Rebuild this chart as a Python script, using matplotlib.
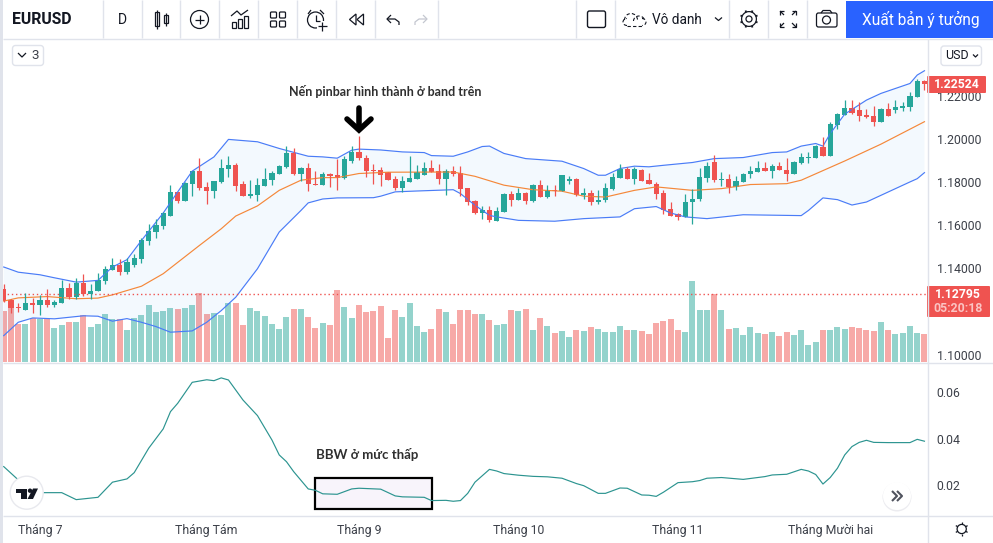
import numpy as np
import matplotlib
matplotlib.use("Agg")
import matplotlib.pyplot as plt
from matplotlib.patches import Rectangle, Circle, FancyBboxPatch, Polygon, Arc

# candles, one row of ten per line
opens = [1.1305, 1.1253, 1.1220, 1.1209, 1.1241, 1.1228, 1.1251, 1.1232, 1.1238, 1.1311,
         1.1269, 1.1330, 1.1279, 1.1297, 1.1339, 1.1393, 1.1413, 1.1381, 1.1413, 1.1441,
         1.1525, 1.1566, 1.1594, 1.1641, 1.1752, 1.1710, 1.1789, 1.1850, 1.1775, 1.1757,
         1.1798, 1.1859, 1.1877, 1.1789, 1.1734, 1.1738, 1.1780, 1.1808, 1.1836, 1.1868,
         1.1933, 1.1836, 1.1863, 1.1789, 1.1785, 1.1836, 1.1831, 1.1819, 1.1896, 1.1938,
         1.1913, 1.1854, 1.1854, 1.1845, 1.1812, 1.1771, 1.1798, 1.1812, 1.1831, 1.1864,
         1.1850, 1.1812, 1.1850, 1.1840, 1.1771, 1.1710, 1.1655, 1.1669, 1.1618, 1.1659,
         1.1743, 1.1715, 1.1747, 1.1710, 1.1785, 1.1729, 1.1761, 1.1757, 1.1805, 1.1812,
         1.1740, 1.1747, 1.1706, 1.1715, 1.1766, 1.1817, 1.1859, 1.1812, 1.1854, 1.1808,
         1.1792, 1.1747, 1.1673, 1.1650, 1.1636, 1.1707, 1.1720, 1.1817, 1.1891, 1.1808,
         1.1812, 1.1775, 1.1798, 1.1836, 1.1845, 1.1863, 1.1850, 1.1873, 1.1854, 1.1836,
         1.1887, 1.1911, 1.1910, 1.1961, 1.1919, 1.2063, 1.2109, 1.2142, 1.2133, 1.2109,
         1.2105, 1.2077, 1.2137, 1.2133, 1.2142, 1.2147, 1.2193, 1.2267]
closes = [1.1249, 1.1215, 1.1215, 1.1241, 1.1228, 1.1251, 1.1232, 1.1243, 1.1311, 1.1269,
          1.1330, 1.1279, 1.1297, 1.1344, 1.1399, 1.1413, 1.1381, 1.1427, 1.1446, 1.1529,
          1.1571, 1.1599, 1.1655, 1.1752, 1.1710, 1.1794, 1.1850, 1.1771, 1.1757, 1.1803,
          1.1863, 1.1877, 1.1780, 1.1734, 1.1743, 1.1785, 1.1812, 1.1840, 1.1873, 1.1933,
          1.1836, 1.1863, 1.1789, 1.1786, 1.1836, 1.1826, 1.1819, 1.1905, 1.1938, 1.1910,
          1.1850, 1.1850, 1.1831, 1.1808, 1.1771, 1.1803, 1.1817, 1.1845, 1.1864, 1.1845,
          1.1812, 1.1850, 1.1836, 1.1766, 1.1706, 1.1655, 1.1669, 1.1622, 1.1664, 1.1743,
          1.1715, 1.1747, 1.1710, 1.1785, 1.1729, 1.1761, 1.1758, 1.1831, 1.1812, 1.1738,
          1.1747, 1.1706, 1.1715, 1.1771, 1.1822, 1.1859, 1.1812, 1.1859, 1.1805, 1.1791,
          1.1743, 1.1668, 1.1642, 1.1638, 1.1709, 1.1723, 1.1822, 1.1873, 1.1808, 1.1812,
          1.1775, 1.1803, 1.1836, 1.1850, 1.1863, 1.1851, 1.1873, 1.1854, 1.1836, 1.1891,
          1.1914, 1.1914, 1.1966, 1.1919, 1.2068, 1.2114, 1.2142, 1.2119, 1.2105, 1.2099,
          1.2077, 1.2137, 1.2105, 1.2147, 1.2151, 1.2198, 1.2267, 1.2252]
highs = [1.1325, 1.1258, 1.1241, 1.1286, 1.1262, 1.1277, 1.1302, 1.1251, 1.1344, 1.1334,
         1.1353, 1.1372, 1.1325, 1.1376, 1.1409, 1.1450, 1.1441, 1.1446, 1.1467, 1.1539,
         1.1604, 1.1627, 1.1659, 1.1785, 1.1752, 1.1798, 1.1850, 1.1910, 1.1798, 1.1803,
         1.1905, 1.1919, 1.1887, 1.1803, 1.1808, 1.1817, 1.1863, 1.1850, 1.1877, 1.1966,
         1.1956, 1.1868, 1.1887, 1.1850, 1.1845, 1.1840, 1.1905, 1.1919, 1.1966, 1.2012,
         1.1927, 1.1882, 1.1867, 1.1845, 1.1826, 1.1826, 1.1919, 1.1877, 1.1891, 1.1901,
         1.1882, 1.1862, 1.1873, 1.1873, 1.1771, 1.1715, 1.1687, 1.1687, 1.1682, 1.1747,
         1.1757, 1.1771, 1.1752, 1.1789, 1.1808, 1.1785, 1.1785, 1.1831, 1.1826, 1.1817,
         1.1771, 1.1761, 1.1761, 1.1794, 1.1840, 1.1882, 1.1868, 1.1868, 1.1862, 1.1842,
         1.1798, 1.1761, 1.1706, 1.1655, 1.1743, 1.1769, 1.1863, 1.1891, 1.1924, 1.1845,
         1.1836, 1.1826, 1.1840, 1.1873, 1.1896, 1.1891, 1.1882, 1.1891, 1.1910, 1.1896,
         1.1933, 1.1938, 1.1970, 1.2007, 1.2077, 1.2119, 1.2179, 1.2179, 1.2170, 1.2137,
         1.2151, 1.2142, 1.2165, 1.2179, 1.2170, 1.2216, 1.2277, 1.2272]
lows = [1.1243, 1.1192, 1.1197, 1.1209, 1.1192, 1.1186, 1.1223, 1.1220, 1.1238, 1.1260,
        1.1260, 1.1274, 1.1257, 1.1297, 1.1327, 1.1390, 1.1367, 1.1372, 1.1406, 1.1424,
        1.1506, 1.1542, 1.1582, 1.1641, 1.1701, 1.1710, 1.1734, 1.1761, 1.1696, 1.1724,
        1.1794, 1.1822, 1.1757, 1.1734, 1.1724, 1.1710, 1.1780, 1.1785, 1.1836, 1.1863,
        1.1831, 1.1803, 1.1757, 1.1785, 1.1785, 1.1777, 1.1764, 1.1812, 1.1888, 1.1901,
        1.1822, 1.1789, 1.1780, 1.1808, 1.1764, 1.1755, 1.1798, 1.1812, 1.1831, 1.1845,
        1.1789, 1.1738, 1.1826, 1.1734, 1.1692, 1.1650, 1.1627, 1.1613, 1.1618, 1.1659,
        1.1687, 1.1715, 1.1696, 1.1706, 1.1729, 1.1724, 1.1734, 1.1757, 1.1789, 1.1734,
        1.1720, 1.1692, 1.1696, 1.1706, 1.1761, 1.1817, 1.1812, 1.1789, 1.1805, 1.1791,
        1.1720, 1.1650, 1.1642, 1.1622, 1.1636, 1.1604, 1.1710, 1.1798, 1.1798, 1.1780,
        1.1747, 1.1761, 1.1798, 1.1817, 1.1845, 1.1851, 1.1817, 1.1854, 1.1803, 1.1836,
        1.1882, 1.1887, 1.1910, 1.1919, 1.1919, 1.2044, 1.2109, 1.2114, 1.2082, 1.2095,
        1.2058, 1.2077, 1.2105, 1.2119, 1.2128, 1.2128, 1.2193, 1.2225]
volumes = [153, 163, 115, 113, 133, 128, 128, 101, 110, 119,
           119, 140, 104, 113, 143, 128, 128, 95, 131, 140,
           170, 149, 152, 161, 158, 161, 170, 206, 143, 146,
           140, 176, 176, 110, 161, 152, 137, 113, 98, 134,
           158, 158, 134, 101, 118, 112, 217, 166, 133, 172,
           151, 154, 169, 73, 157, 136, 178, 109, 91, 100,
           160, 151, 115, 157, 157, 145, 145, 127, 112, 115,
           157, 154, 160, 97, 133, 109, 88, 94, 76, 97,
           94, 106, 100, 91, 91, 109, 97, 97, 92, 83,
           116, 122, 128, 95, 89, 242, 155, 155, 203, 155,
           98, 101, 80, 104, 86, 83, 89, 77, 89, 80,
           95, 50, 59, 95, 95, 104, 98, 104, 101, 95,
           92, 119, 95, 83, 86, 107, 86, 83]

# bollinger bands, read at the bars where the line bends
upper_i = [0, 2, 5, 7, 10, 13, 15, 17, 19, 22, 24, 26, 29, 31, 35, 38, 42, 44, 46, 48, 49, 52, 55, 58, 59, 62,
           64, 66, 67, 69, 72, 77, 80, 82, 83, 85, 87, 89, 91, 95, 98, 102, 106, 108, 110, 112, 113, 114, 116,
           119, 121, 125, 126, 127]
upper = [1.1406, 1.1382, 1.1370, 1.1356, 1.1336, 1.1344, 1.1406, 1.1440, 1.1529, 1.1656, 1.1754, 1.1850, 1.1916,
         1.1997, 1.1986, 1.1955, 1.1919, 1.1916, 1.1910, 1.1947, 1.1952, 1.1948, 1.1939, 1.1936, 1.1922, 1.1919,
         1.1939, 1.1964, 1.1966, 1.1932, 1.1908, 1.1896, 1.1862, 1.1831, 1.1831, 1.1862, 1.1873, 1.1870, 1.1877,
         1.1890, 1.1908, 1.1913, 1.1936, 1.1939, 1.1966, 1.1978, 1.1966, 1.2024, 1.2114, 1.2179, 1.2210, 1.2256,
         1.2295, 1.2315]
lower_i = [0, 2, 4, 7, 11, 13, 15, 17, 19, 21, 23, 26, 28, 30, 32, 35, 38, 41, 42, 44, 46, 51, 52, 54, 57, 62,
           63, 65, 67, 68, 71, 76, 80, 85, 87, 90, 92, 94, 97, 102, 110, 111, 113, 115, 117, 119, 121, 125, 126,
           127]
lower = [1.1088, 1.1150, 1.1170, 1.1166, 1.1180, 1.1178, 1.1155, 1.1167, 1.1150, 1.1130, 1.1104, 1.1110, 1.1150,
         1.1204, 1.1266, 1.1398, 1.1568, 1.1668, 1.1703, 1.1721, 1.1726, 1.1727, 1.1734, 1.1754, 1.1758, 1.1764,
         1.1746, 1.1692, 1.1645, 1.1638, 1.1622, 1.1618, 1.1630, 1.1638, 1.1676, 1.1686, 1.1656, 1.1638, 1.1630,
         1.1648, 1.1644, 1.1668, 1.1726, 1.1718, 1.1693, 1.1707, 1.1738, 1.1800, 1.1815, 1.1843]
basis_i = [0, 2, 6, 10, 13, 15, 19, 22, 27, 30, 32, 35, 38, 41, 44, 46, 49, 53, 62, 65, 69, 73, 77, 80, 83, 87, 90,
           95, 99, 103, 108, 110, 116, 121, 127]
basis = [1.1248, 1.1263, 1.1269, 1.1259, 1.1262, 1.1277, 1.1317, 1.1375, 1.1506, 1.1583, 1.1642, 1.1689, 1.1761,
         1.1808, 1.1820, 1.1820, 1.1839, 1.1845, 1.1846, 1.1826, 1.1785, 1.1764, 1.1757, 1.1734, 1.1730, 1.1761,
         1.1777, 1.1761, 1.1769, 1.1788, 1.1792, 1.1808, 1.1897, 1.1975, 1.2079]

# bollinger band width pane
bbw_i = [0, 2, 5, 8, 10, 13, 15, 17, 18, 20, 22, 23, 24, 26, 28, 29, 30, 31, 33, 35, 37, 38, 39, 40, 42, 43, 44, 46,
         48, 49, 52, 54, 55, 58, 59, 61, 62, 63, 64, 65, 67, 68, 69, 71, 73, 75, 77, 79, 80, 82, 83, 85, 86, 88, 89,
         90, 91, 93, 95, 96, 97, 99, 102, 105, 106, 108, 110, 111, 112, 113, 114, 115, 116, 117, 118, 119, 120, 122,
         125, 126, 127]
bbw = [0.0281, 0.0224, 0.0169, 0.0169, 0.0139, 0.0149, 0.0214, 0.0228, 0.0255, 0.0360, 0.0443, 0.0517, 0.0553, 0.0643,
       0.0654, 0.0650, 0.0662, 0.0653, 0.0567, 0.0500, 0.0395, 0.0331, 0.0302, 0.0259, 0.0185, 0.0179, 0.0164, 0.0162,
       0.0185, 0.0188, 0.0184, 0.0155, 0.0151, 0.0149, 0.0135, 0.0136, 0.0132, 0.0135, 0.0166, 0.0214, 0.0269, 0.0262,
       0.0251, 0.0244, 0.0239, 0.0237, 0.0231, 0.0208, 0.0199, 0.0166, 0.0166, 0.0189, 0.0188, 0.0159, 0.0158, 0.0153,
       0.0171, 0.0212, 0.0216, 0.0221, 0.0231, 0.0234, 0.0226, 0.0238, 0.0245, 0.0248, 0.0269, 0.0262, 0.0247, 0.0206,
       0.0234, 0.0274, 0.0331, 0.0367, 0.0385, 0.0394, 0.0385, 0.0384, 0.0384, 0.0398, 0.0390]

price_ticks = [1.10, 1.14, 1.16, 1.18, 1.20, 1.22]
bbw_ticks = [0.02, 0.04, 0.06]
month_pos = [5, 28, 49, 71, 93, 114]
month_labels = ["Tháng 7", "Tháng Tám", "Tháng 9", "Tháng 10", "Tháng 11", "Tháng Mười hai"]
last_price = 1.22524
line_price = 1.12795

GREEN = "#26a69a"
RED = "#ef5350"
VOL_GREEN = "#94d3cc"
VOL_RED = "#f7a9a7"
BLUE = "#4a7cf7"
ORANGE = "#f5883a"
TEAL = "#2c9490"
GRID = "#e0e3eb"
TEXT = "#131722"
AXIS_TEXT = "#3c4049"
UI_FONT = ["Roboto", "DejaVu Sans"]
NARROW = ["Lato", "Roboto", "DejaVu Sans"]

plt.rcParams["font.family"] = UI_FONT

W, H = 993, 543
fig = plt.figure(figsize=(W / 100, H / 100), dpi=100, facecolor="white")


def px_axes(left, top, right, bottom):
    return fig.add_axes([left / W, 1 - bottom / H, (right - left) / W, (bottom - top) / H])


x = np.arange(len(opens))
opens = np.array(opens)
closes = np.array(closes)
up = closes >= opens
xlim = (-0.1, 127.35)

# volume sits behind the price axes, both in the same box
vol = px_axes(3, 39, 927, 362)
vol.bar(x, volumes, width=0.83, color=[VOL_GREEN if u else VOL_RED for u in up], linewidth=0)
vol.set_xlim(xlim)
vol.set_ylim(0, 967)
vol.axis("off")

ax = px_axes(3, 39, 927, 362)
ax.patch.set_visible(False)
ax.set_xlim(xlim)
ax.set_ylim(1.0966, 1.2462)
ax.fill(np.r_[upper_i, lower_i[::-1]], np.r_[upper, lower[::-1]], color="#2196f3", alpha=0.05, linewidth=0)
ax.plot(upper_i, upper, color=BLUE, lw=0.85)
ax.plot(lower_i, lower, color=BLUE, lw=0.85)
ax.plot(basis_i, basis, color=ORANGE, lw=0.85)
ax.axhline(line_price, color=RED, lw=1.0, ls=(0, (1, 2)))
colors = [GREEN if u else RED for u in up]
ax.vlines(x, lows, highs, colors=colors, lw=0.9)
ax.bar(x, np.abs(closes - opens), bottom=np.minimum(opens, closes), width=0.72, color=colors, linewidth=0)

ax.yaxis.tick_right()
ax.set_yticks(price_ticks)
ax.set_yticklabels([f"{p:.5f}" for p in price_ticks], fontsize=8.8, color=AXIS_TEXT)
ax.tick_params(axis="y", length=0, pad=7)
ax.set_xticks([])
for s in ax.spines.values():
    s.set_visible(False)

low_ax = px_axes(3, 363, 927, 515)
low_ax.set_xlim(xlim)
low_ax.set_ylim(0.0073, 0.0726)
low_ax.plot(bbw_i, bbw, color=TEAL, lw=0.85, zorder=3)
low_ax.yaxis.tick_right()
low_ax.set_yticks(bbw_ticks)
low_ax.set_yticklabels([f"{v:.2f}" for v in bbw_ticks], fontsize=8.8, color=AXIS_TEXT)
low_ax.set_xticks(month_pos)
low_ax.set_xticklabels(month_labels, fontsize=8.8, color=AXIS_TEXT)
low_ax.tick_params(axis="y", length=0, pad=7)
low_ax.tick_params(axis="x", length=0, pad=6.5)
for s in low_ax.spines.values():
    s.set_visible(False)

# everything around the chart is drawn in plain pixel coordinates
ui = px_axes(0, 0, W, H)
ui.set_xlim(0, W)
ui.set_ylim(H, 0)
ui.axis("off")
ui.patch.set_visible(False)
ui.set_zorder(5)

# box behind the bbw line
low_ax.add_patch(Rectangle((315, 478), 117, 31, transform=ui.transData, fc="#f8f4fb", ec="black", lw=1.6, zorder=1))


def ln(xs, ys, color=TEXT, lw=0.9, **kw):
    ui.plot(xs, ys, color=color, lw=lw, solid_capstyle=kw.pop("cap", "butt"), **kw)


def box(x0, y0, x1, y1, r=2, fc="white", ec=GRID, lw=1.0):
    ui.add_patch(FancyBboxPatch((x0 + r, y0 + r), x1 - x0 - 2 * r, y1 - y0 - 2 * r,
                                boxstyle=f"round,pad={r}", fc=fc, ec=ec, lw=lw))


# frame lines
ui.add_patch(Rectangle((0, 0), 3, H, fc=GRID, lw=0))
ln([3, W], [38.5, 38.5], GRID, 1.0)
ln([3, W], [362.5, 362.5], GRID, 1.0)
ln([3, W], [515.5, 515.5], GRID, 1.0)
ln([927.5, 927.5], [39, H], GRID, 1.0)
for sx in [103, 141.7, 180.3, 219.3, 258.3, 297.3, 336.3, 375.3, 438.3, 576.3, 615.3, 729.3, 768.3, 807.3]:
    ln([sx, sx], [0, 38], GRID, 1.0)

# toolbar
ui.text(12, 19.5, "EURUSD", fontsize=11.3, fontweight="bold", color=TEXT, va="center")
ui.text(122.5, 19.5, "D", fontsize=10, color=TEXT, ha="center", va="center")
# candle icon
ln([157, 157], [9.5, 29]); ln([165.5, 165.5], [12.5, 26])
ui.add_patch(Rectangle((155, 12), 4, 14, fc="white", ec=TEXT, lw=0.9))
ui.add_patch(Rectangle((163.5, 15), 4, 8, fc="white", ec=TEXT, lw=0.9))
# add indicator
ui.add_patch(Circle((199.5, 19.5), 9, fc="none", ec=TEXT, lw=0.9))
ln([195, 204], [19.5, 19.5]); ln([199.5, 199.5], [15, 24])
# chart icon
ln([231, 237, 241, 248], [16, 11, 15, 10])
for bx, by in [(231.5, 22), (237.5, 19), (243.5, 16)]:
    ui.add_patch(Rectangle((bx, by), 4.5, 27.5 - by, fc="none", ec=TEXT, lw=0.9))
# layouts
for bx, by in [(270.5, 12), (279.5, 12), (270.5, 21), (279.5, 21)]:
    box(bx, by, bx + 6, by + 6, r=1, fc="none", ec=TEXT, lw=0.9)
# alarm
ui.add_patch(Circle((315.5, 20), 8, fc="none", ec=TEXT, lw=0.9))
ln([315.5, 315.5, 320], [15, 21, 21])
ln([308, 311], [14, 10]); ln([320, 324], [10, 14])
ui.add_patch(Rectangle((317, 20.5), 10, 10, fc="white", lw=0))
ln([317.5, 326.5], [26, 26]); ln([322, 322], [21.5, 30.5])
# rewind
ui.add_patch(Polygon([[356, 14], [349.5, 19.5], [356, 25]], fc="none", ec=TEXT, lw=0.9))
ui.add_patch(Polygon([[363.5, 14], [357, 19.5], [363.5, 25]], fc="none", ec=TEXT, lw=0.9))
# undo / redo
ln([391, 387, 391], [15, 19, 23]); ln([387, 395, 399, 399], [19, 19, 22, 25])
ln([423, 427, 423], [15, 19, 23], "#c4c7d0"); ln([427, 419, 415, 415], [19, 19, 22, 25], "#c4c7d0")

# right side of the toolbar
box(587.5, 11, 605.5, 27.5, r=2, fc="none", ec=TEXT, lw=1.0)
ui.add_patch(Arc((631, 20), 13, 13, theta1=180, theta2=360, ec=TEXT, lw=0.8, ls=(0, (3, 2))))
ui.add_patch(Arc((639, 21), 11, 10, theta1=180, theta2=360, ec=TEXT, lw=0.8, ls=(0, (3, 2))))
ui.add_patch(Arc((627, 22), 8, 7, theta1=90, theta2=270, ec=TEXT, lw=0.8, ls=(0, (3, 2))))
ui.add_patch(Arc((642, 22), 8, 7, theta1=270, theta2=90, ec=TEXT, lw=0.8, ls=(0, (3, 2))))
ln([627, 642], [25.7, 25.7], TEXT, 0.8, ls=(0, (3, 2)))
ui.text(651.5, 19.5, "Vô danh", fontsize=9.8, color=TEXT, va="center")
ln([715, 718.5, 722], [17.5, 20.5, 17.5])
# gear
ui.add_patch(Circle((749, 19), 3, fc="none", ec=TEXT, lw=0.9))
ui.add_patch(Circle((749, 19), 7.4, fc="none", ec=TEXT, lw=0.9))
for a in np.arange(0, 360, 45):
    ca, sa = np.cos(np.radians(a + 22.5)), np.sin(np.radians(a + 22.5))
    ln([749 + 7.4 * ca, 749 + 9.2 * ca], [19 + 7.4 * sa, 19 + 9.2 * sa], TEXT, 1.3)
# fullscreen corners
for sx, sy in [(-1, -1), (1, -1), (-1, 1), (1, 1)]:
    cx, cy = 788 + sx * 8, 19 + sy * 8
    ln([cx, cx, cx - sx * 4], [cy - sy * 4, cy, cy])
    ln([cx, cx - sx * 4], [cy, cy - sy * 4])
# camera
box(816.5, 13, 837, 27, r=2, fc="none", ec=TEXT, lw=0.9)
ln([821, 823, 830, 832], [13, 10.5, 10.5, 13])
ui.add_patch(Circle((826.5, 20), 4, fc="none", ec=TEXT, lw=0.9))
# publish button
ui.add_patch(Rectangle((846, 1), W - 846, 37, fc="#2962ff", lw=0))
ui.text(920.5, 19.5, "Xuất bản ý tưởng", fontsize=11.2, color="white", ha="center", va="center")

# small pane controls
box(12.5, 45.5, 43.5, 65.5, r=3)
ln([18, 22, 26], [53, 57, 53], TEXT, 0.9)
ui.text(35.5, 55.5, "3", fontsize=9.6, color=AXIS_TEXT, ha="center", va="center")
box(941, 46, 981.5, 65.5, r=3)
ui.text(957, 55.5, "USD", fontsize=9, color=TEXT, ha="center", va="center")
ln([973, 975.5, 978], [54.5, 57, 54.5], TEXT, 0.9)

# price badges
box(927, 76, 986, 93, r=1, fc=RED, ec=RED, lw=0)
ui.text(957, 84.5, f"{last_price:.5f}", fontsize=8.8, fontweight="bold", color="white", ha="center", va="center")
box(927, 286, 990, 317, r=1, fc=RED, ec=RED, lw=0)
ui.text(958, 294.5, f"{line_price:.5f}", fontsize=8.8, fontweight="bold", color="white", ha="center", va="center")
ui.text(958, 309, "05:20:18", fontsize=8.8, fontweight="bold", color="#fbc4c3", ha="center", va="center")

# annotations
ui.text(385, 91, "Nến pinbar hình thành ở band trên", fontsize=9, fontweight="bold", family=NARROW,
        color="#2f2f2f", ha="center", va="center")
ui.text(367.5, 454.5, "BBW ở mức thấp", fontsize=9.5, fontweight="bold", family=NARROW,
        color="#2f2f2f", ha="center", va="center")
ui.plot([359, 359], [108, 128], color="black", lw=4, solid_capstyle="round")
ui.plot([347, 359, 371], [119, 130, 119], color="black", lw=4, solid_capstyle="round", solid_joinstyle="miter")

# logo button
ui.add_patch(Circle((26.7, 492.7), 16.5, fc="white", ec="#e8e9ee", lw=1))
ui.add_patch(Polygon([[16, 488.5], [27, 488.5], [27, 499], [21, 499], [21, 493], [16, 493]], fc=TEXT, lw=0))
ui.add_patch(Circle((30, 490.7), 2.2, fc=TEXT, lw=0))
ui.add_patch(Polygon([[33, 488.5], [38, 488.5], [33, 499], [27.5, 499]], fc=TEXT, lw=0))

# scroll button
ui.add_patch(Circle((897, 497), 14.5, fc="#ececf0", lw=0))
ui.add_patch(Circle((897, 496), 14, fc="white", lw=0))
ln([892, 897, 892], [491, 496, 501], "#50535e", 1.5)
ln([897, 902, 897], [491, 496, 501], "#50535e", 1.5)

# sun icon
ui.add_patch(Circle((961.7, 529), 4.6, fc="none", ec=TEXT, lw=0.9))
for a in np.arange(0, 360, 60):
    ca, sa = np.cos(np.radians(a + 30)), np.sin(np.radians(a + 30))
    ln([961.7 + 4.6 * ca, 961.7 + 6.8 * ca], [529 + 4.6 * sa, 529 + 6.8 * sa], TEXT, 0.9)

fig.savefig("out.png", dpi=100)
